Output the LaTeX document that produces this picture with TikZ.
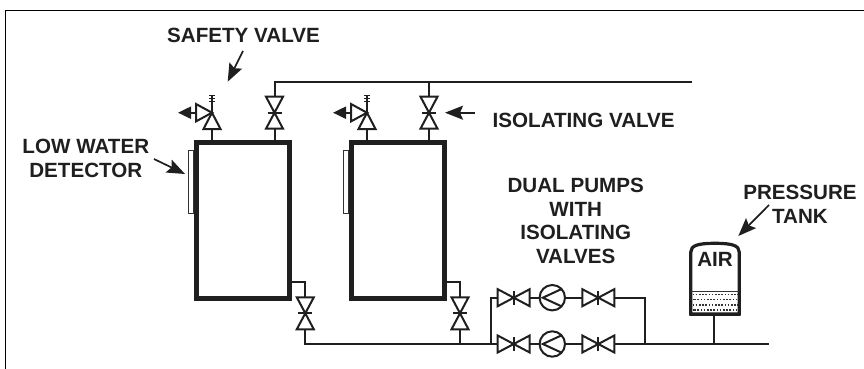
\documentclass[tikz,border=0pt]{standalone}
\usepackage{fontspec}
\setmainfont{Liberation Sans}
\usetikzlibrary{arrows.meta,positioning,calc}

\begin{document}
\begin{tikzpicture}[
    x=1pt, y=-1pt,
    pipe/.style={line width=2pt, color=black!88, line join=miter},
    boiler/.style={draw=black!88, rectangle, line width=5pt, minimum width=93.2pt, minimum height=156.1pt, inner sep=0pt, outer sep=0pt},
    detector/.style={draw=black!80, rectangle, line width=1.1pt, minimum width=5.4pt, minimum height=62.4pt, inner sep=0pt, outer sep=0pt},
    label/.style={font=\fontsize{20.6}{23.8}\selectfont\bfseries, text=black!88, align=center, inner sep=0pt},
    pointer/.style={-{Stealth[length=18pt, width=14pt, inset=3pt]}, line width=1.7pt, color=black!88},
    pump/.style={draw=black!88, circle, line width=2pt, minimum size=25.4pt, inner sep=0pt, outer sep=0pt,
        path picture={\draw[pipe] ($(path picture bounding box.center)+(10,-9)$) -- ($(path picture bounding box.center)+(-9.5,0)$) -- ($(path picture bounding box.center)+(10,9)$);}},
    gatevalve/.pic={
        \draw[pipe] (-8.5,-16) -- (8.5,-16) -- (-8.5,16) -- (8.5,16) -- cycle;
        \draw[pipe] (-7,0) -- (7,0);
        \coordinate (-in) at (0,-16);
        \coordinate (-out) at (0,16);
    },
    reliefvalve/.pic={
        \draw[pipe] (0,0) -- (-8.5,16.3) -- (8.5,16.3) -- cycle;
        \draw[pipe] (0,0) -- (-16,-8.7) -- (-16,8.7) -- cycle;
        \draw[pipe] (0,0) -- (0,-18);
        \foreach \s in {-17,-14,-11} \draw[line width=1.5pt, color=black!88] (-3.2,\s) -- (3.2,\s);
        \draw[pipe, -{Stealth[length=13pt, width=12pt, inset=0pt]}] (-16,0) -- (-34,0);
        \coordinate (-out) at (0,16.3);
    }
]
    \useasboundingbox (0,0) rectangle (864,369);

    \coordinate (frameBL) at (5.5,369);
    \coordinate (frameTL) at (5.5,10.5);
    \coordinate (frameTR) at (864,10.5);
    \draw[line width=1.6pt] (frameBL) -- (frameTL) -- (frameTR);

    % boilers
    \node[boiler] (boilerA) at (242.9,220.35) {};
    \node[boiler, right=61.8pt of boilerA] (boilerB) {};
    \node[detector] (detectA) at (191,182) {};
    \node[detector] (detectB) at (346,182) {};

    % top valves
    \pic (safeA) at (212,112.7) {reliefvalve};
    \pic (safeB) at (367,112.7) {reliefvalve};
    \pic (isoA) at (274.5,112.7) {gatevalve};
    \pic (isoB) at (429,112.7) {gatevalve};
    \coordinate (headerEnd) at (692,82);

    \draw[pipe] (safeA-out) -- (safeA-out |- boilerA.north);
    \draw[pipe] (safeB-out) -- (safeB-out |- boilerB.north);
    \draw[pipe] (isoA-out) -- (isoA-out |- boilerA.north);
    \draw[pipe] (isoB-out) -- (isoB-out |- boilerB.north);
    \draw[pipe] (isoA-in) |- (headerEnd);
    \draw[pipe] (isoB-in) -- (isoB-in |- headerEnd);

    % return valves
    \pic (lowA) at (305.3,313.3) {gatevalve};
    \pic (lowB) at (460,313.3) {gatevalve};
    \draw[pipe] ($(boilerA.south east)+(0,-16.4)$) -| (lowA-in);
    \draw[pipe] ($(boilerB.south east)+(0,-16.4)$) -| (lowB-in);

    % dual pumps
    \pic[rotate=90] (pumpValveA) at (513.7,297.7) {gatevalve};
    \pic[rotate=90] (pumpValveB) at (598.3,297.7) {gatevalve};
    \pic[rotate=90] (pumpValveC) at (513.7,344) {gatevalve};
    \pic[rotate=90] (pumpValveD) at (598.3,344) {gatevalve};
    \node[pump] (pumpA) at (552.3,297.7) {};
    \node[pump] (pumpB) at (552.3,344) {};
    \coordinate (splitL) at (490.7,344);
    \coordinate (splitR) at (645,344);
    \coordinate (mainEnd) at (768.7,344);

    \draw[pipe] (lowA-out) |- (pumpValveC-in);
    \draw[pipe] (lowB-out) -- (lowB-out |- mainEnd);
    \draw[pipe] (pumpValveA-in) -| (splitL);
    \draw[pipe] (pumpValveB-out) -| (splitR);
    \draw[pipe] (pumpValveA-out) -- (pumpA.west);
    \draw[pipe] (pumpA.east) -- (pumpValveB-in);
    \draw[pipe] (pumpValveC-out) -- (pumpB.west);
    \draw[pipe] (pumpB.east) -- (pumpValveD-in);
    \draw[pipe] (pumpValveD-out) -- (mainEnd);

    % tank
    \draw[line width=3.2pt, color=black!88] (690.8,314) -- (690.8,252) .. controls (690.8,245.5) and (698,243.3) .. (715,243.3) .. controls (732,243.3) and (739.2,245.5) .. (739.2,252) -- (739.2,314) -- cycle;
    \draw[line width=1pt, color=black!80] (691,291.7) -- (739,291.7);
    \foreach \y/\p in {294.5/0,299.5/1.5,305/0,310/1.5}
        \draw[line width=1.8pt, color=black!80, dash pattern=on 1.6pt off 1.6pt, dash phase=\p pt] (692.5,\y) -- (737.5,\y);
    \draw[line width=2pt, color=black!88] (690,314.8) -- (740,314.8);
    \node[label] (air) at (715,259) {AIR};
    \coordinate (tankBase) at (714.3,315.7);
    \draw[pipe] (tankBase) -- (tankBase |- mainEnd);

    % labels
    \node[label] (safetyLabel) at (243.5,35) {SAFETY VALVE};
    \node[label] (lowLabel) at (85.8,158.3) {LOW WATER\\DETECTOR};
    \node[label] (isoLabel) at (583.7,120) {ISOLATING VALVE};
    \node[label] (dualLabel) at (575.7,221) {DUAL PUMPS\\WITH\\ISOLATING\\VALVES};
    \node[label] (tankLabel) at (800,204.7) {PRESSURE\\TANK};

    \coordinate (safetyTail) at (243,51);
    \coordinate (safetyTip) at (227.7,81.7);
    \coordinate (lowTail) at (154,159);
    \coordinate (lowTip) at (185,174);
    \coordinate (isoTail) at (475,112.7);
    \coordinate (isoTip) at (445,112.7);
    \coordinate (tankTail) at (769,205);
    \coordinate (tankTip) at (738.3,236);
    \draw[pointer] (safetyTail) -- (safetyTip);
    \draw[pointer] (lowTail) -- (lowTip);
    \draw[pointer] (isoTail) -- (isoTip);
    \draw[pointer] (tankTail) -- (tankTip);
\end{tikzpicture}
\end{document}
